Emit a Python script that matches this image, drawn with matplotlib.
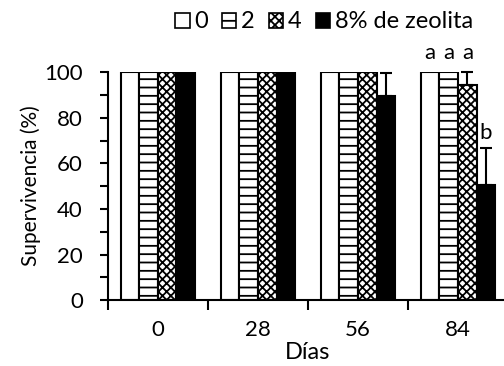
import numpy as np
import matplotlib.pyplot as plt
from matplotlib.patches import Patch

plt.rcParams['font.family'] = ['Lato', 'DejaVu Sans']
plt.rcParams['hatch.linewidth'] = 1.3

# data
dias = ['0', '28', '56', '84']
series = ['0', '2', '4', '8% de zeolita']
valores = [
    [100, 100, 100, 100],   # 0 %
    [100, 100, 100, 100],   # 2 %
    [100, 100, 100, 94.5],  # 4 %
    [100, 100, 89.5, 50.5], # 8 %
]
errores = [
    [0, 0, 0, 0],
    [0, 0, 0, 0],
    [0, 0, 0, 5.5],
    [0, 0, 10, 16],
]
letras_84 = ['a', 'a', 'a', 'b']

fills = ['white', 'white', 'white', 'black']
hatches = [None, '--', 'xxxx', None]

fig = plt.figure(figsize=(5.04, 3.66), dpi=100)
ax = fig.add_axes([0.214, 0.18, 0.794, 0.623])

x = np.arange(len(dias))
w = 0.186
for i in range(4):
    pos = x + (i - 1.5) * w
    ax.bar(pos, valores[i], w, color=fills[i], edgecolor='black',
           linewidth=1.5, hatch=hatches[i], zorder=2)
    err = np.array(errores[i])
    if err.any():
        m = err > 0
        ax.errorbar(pos[m], np.array(valores[i])[m],
                    yerr=[np.zeros(m.sum()), err[m]], fmt='none',
                    ecolor='black', elinewidth=1.5, capsize=4, capthick=1.5,
                    zorder=3, clip_on=False)

# letters above day 84
for i, l in enumerate(letras_84):
    px = x[3] + (i - 1.5) * w
    top = valores[i][3] + errores[i][3]
    y = 108.5 if i < 3 else top + 7
    ax.text(px, y, l, ha='center', va='center', fontsize=16, clip_on=False)

ax.set_xlim(-0.5, 3.5)
ax.set_ylim(0, 100)
ax.set_yticks(range(0, 101, 20))
ax.set_yticks(range(10, 100, 20), minor=True)
ax.set_xticks(x)
ax.set_xticklabels(dias)
ax.set_xticks(np.arange(-0.5, 4, 1), minor=True)
ax.tick_params(axis='x', which='major', length=0, pad=14, labelsize=16)
ax.tick_params(axis='x', which='minor', length=7, width=1.5, direction='out')
ax.tick_params(axis='y', which='both', length=6, width=1.5, direction='out',
               labelsize=16, pad=12)
for s in ['top', 'right']:
    ax.spines[s].set_visible(False)
for s in ['left', 'bottom']:
    ax.spines[s].set_linewidth(1.5)

ax.set_ylabel('Supervivencia (%)', fontsize=15, labelpad=2)
ax.set_xlabel('Días', fontsize=17, labelpad=2)

handles = [Patch(facecolor=fills[i], edgecolor='black', hatch=hatches[i], linewidth=1.2)
           for i in range(4)]
fig.legend(handles, series, loc='center', bbox_to_anchor=(0.643, 0.94), ncol=4,
           frameon=False, fontsize=17, handlelength=0.6, handleheight=0.6,
           handletextpad=0.2, columnspacing=0.6, borderaxespad=0)

fig.savefig('out.png', dpi=100)
